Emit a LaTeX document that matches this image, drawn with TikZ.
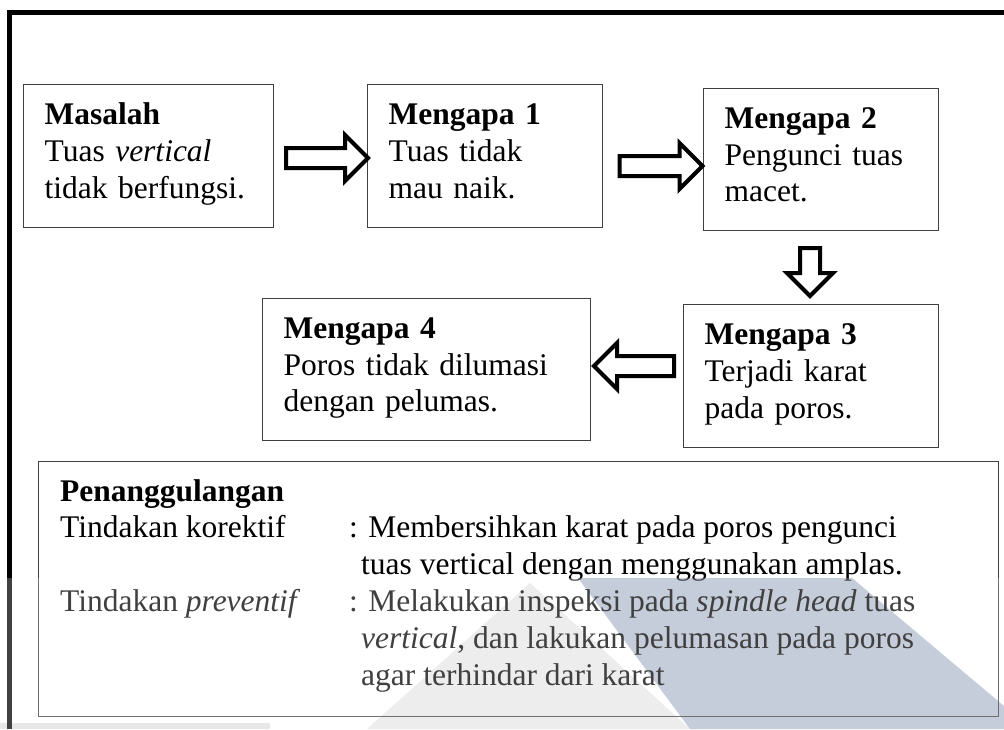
\documentclass[tikz,border=0pt]{standalone}
\usepackage{fontspec}
\setmainfont{Liberation Serif}
\usetikzlibrary{calc,shapes.arrows}

\newcommand{\kepala}{\rule{0pt}{26pt}}
\newcommand{\kaki}{\rule[-15pt]{0pt}{15pt}}

\tikzset{
  kotak/.style={draw=black!75, line width=1.3pt, anchor=north west, align=left,
    inner xsep=21pt, inner ysep=0pt, execute at begin node=\kepala, execute at end node=\kaki},
  bingkai/.style={draw=black!75, line width=1.3pt, anchor=north west, inner sep=0pt},
  panah/.style={single arrow, draw=black, line width=4pt, inner sep=8pt,
    single arrow head extend=13pt, minimum width=0pt},
  baris/.style={anchor=base west, inner sep=0pt},
}

\begin{document}
\begin{tikzpicture}[x=1pt, y=-1pt, font=\fontsize{31.5pt}{36.8pt}\selectfont]
	
	\useasboundingbox (0,0) rectangle (1004,729);
	
	% tanda air di bawah
	\fill[black!9] (367,729) -- (530,583) -- (690,729) -- cycle;
	\fill[black!12] (0,723) rectangle (270,729);
	\fill[fill={rgb,255:red,178;green,188;blue,206}] (578,578) -- (852,578) -- (1004,706) -- (1004,729) -- (690,729) -- cycle;
	
	% bingkai luar
	\draw[line width=5pt] (9.5,729) -- (9.5,12.5) -- (1010,12.5);
	
	% kotak-kotak
	\node[kotak, text width=208pt, minimum height=143pt] (masalah) at (23,84) {\textbf{Masalah}\\ Tuas \textit{vertical}\\ tidak berfungsi.};
	\node[kotak, text width=193pt, minimum height=143pt] (m1) at (367,84) {\textbf{Mengapa 1}\\ Tuas tidak\\ mau naik.};
	\node[kotak, text width=193pt, minimum height=142pt] (m2) at (703,88) {\textbf{Mengapa 2}\\ Pengunci tuas\\ macet.};
	\node[kotak, text width=213pt, minimum height=143pt] (m3) at (683,304) {\textbf{Mengapa 3}\\ Terjadi karat\\ pada poros.};
	\node[kotak, text width=286pt, minimum height=142pt] (m4) at (262,298) {\textbf{Mengapa 4}\\ Poros tidak dilumasi\\ dengan pelumas.};
	
	% panah blok
	\node[panah, minimum height=82pt] (p1) at (322,158) {};
	\node[panah, minimum height=83pt] (p2) at (656,166) {};
	\node[panah, minimum height=48pt, shape border rotate=270] (p3) at (810,267) {};
	\node[panah, minimum height=80pt, shape border rotate=180] (p4) at (639,366) {};
	
	% penanggulangan
	\node[bingkai, minimum width=960pt, minimum height=255pt] (tanggul) at (38,461) {};
	\node[baris] (judul) at (60,501) {\textbf{Penanggulangan}};
	\node[baris] (kor) at (60,537.8) {Tindakan korektif};
	\node[baris] (kor1) at (349,537.8) {: Membersihkan karat pada poros pengunci};
	\node[baris] (kor2) at (361,574.6) {tuas vertical dengan menggunakan amplas.};
	\node[baris] (pre) at (60,611.4) {Tindakan \textit{preventif}};
	\node[baris] (pre1) at (349,611.4) {: Melakukan inspeksi pada \textit{spindle head} tuas};
	\node[baris] (pre2) at (361,648.2) {\textit{vertical}, dan lakukan pelumasan pada poros};
	\node[baris] (pre3) at (361,685) {agar terhindar dari karat};
	
	% lapisan pudar
	\fill[white, opacity=0.25] (0,578) rectangle (1004,729);
	
\end{tikzpicture}
\end{document}
